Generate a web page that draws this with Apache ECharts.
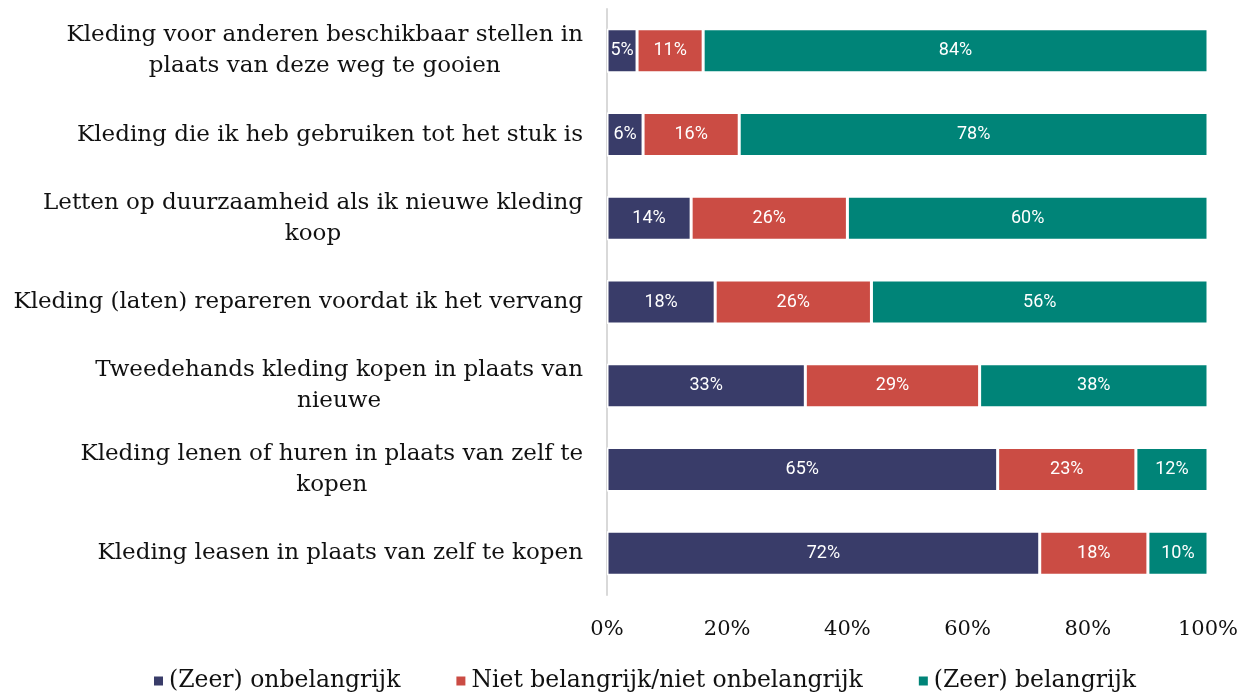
<!DOCTYPE html>
<html>
<head>
<meta charset="utf-8">
<script src="https://cdn.jsdelivr.net/npm/echarts@6/dist/echarts.min.js"></script>
<style>
  html, body { margin: 0; padding: 0; background: #fff; }
  #main { width: 1256px; height: 695px; }
</style>
</head>
<body>
<div id="main"></div>
<script>
// categories, top to bottom as in the picture
const categories = [
  "Kleding voor anderen beschikbaar stellen in\nplaats van deze weg te gooien",
  "Kleding die ik heb gebruiken tot het stuk is",
  "Letten op duurzaamheid als ik nieuwe kleding\nkoop",
  "Kleding (laten) repareren voordat ik het vervang",
  "Tweedehands kleding kopen in plaats van\nnieuwe",
  "Kleding lenen of huren in plaats van zelf te\nkopen",
  "Kleding leasen in plaats van zelf te kopen"
];
const seriesNames = ["(Zeer) onbelangrijk", "Niet belangrijk/niet onbelangrijk", "(Zeer) belangrijk"];
const onbelangrijk = [5, 6, 14, 18, 33, 65, 72];
const neutraal = [11, 16, 26, 26, 29, 23, 18];
const belangrijk = [84, 78, 60, 56, 38, 12, 10];
const colors = ["#393c69", "#cb4c44", "#008478"];

const serif = "DejaVu Serif";
const chart = echarts.init(document.getElementById("main"));

function makeSeries(name, data, color) {
  return {
    name: name,
    type: "bar",
    stack: "total",
    barWidth: 44,
    data: data,
    itemStyle: { color: color, borderColor: "#fff", borderWidth: 1.5 },
    label: {
      show: true,
      position: "inside",
      formatter: "{c}%",
      color: "#fff",
      fontFamily: "Roboto",
      fontSize: 18
    },
    emphasis: { disabled: true }
  };
}

chart.setOption({
  animation: false,
  grid: { left: 607, right: 48, top: 9, bottom: 100, containLabel: false },
  legend: {
    top: 664,
    left: 147,
    itemGap: 54,
    itemWidth: 11,
    itemHeight: 11,
    icon: "rect",
    textStyle: { fontFamily: serif, fontSize: 23.5, color: "#111" },
    data: seriesNames
  },
  xAxis: {
    type: "value",
    min: 0,
    max: 100,
    interval: 20,
    axisLabel: {
      formatter: "{value}%",
      fontFamily: serif,
      fontSize: 21,
      color: "#111",
      margin: 24
    },
    axisLine: { show: false },
    axisTick: { show: false },
    splitLine: { show: false }
  },
  yAxis: {
    type: "category",
    inverse: true,
    data: categories,
    axisLine: { show: true, lineStyle: { color: "#d9d9d9", width: 2 } },
    axisTick: { show: false },
    axisLabel: {
      align: "right",
      margin: 24,
      formatter: function (v) {
        return v.split("\n").map(function (l) { return "{c|" + l + "}"; }).join("\n");
      },
      rich: {
        c: {
          align: "center",
          fontFamily: serif,
          fontSize: 23,
          lineHeight: 31,
          color: "#111"
        }
      }
    }
  },
  series: [
    makeSeries(seriesNames[0], onbelangrijk, colors[0]),
    makeSeries(seriesNames[1], neutraal, colors[1]),
    makeSeries(seriesNames[2], belangrijk, colors[2])
  ]
});
</script>
</body>
</html>
